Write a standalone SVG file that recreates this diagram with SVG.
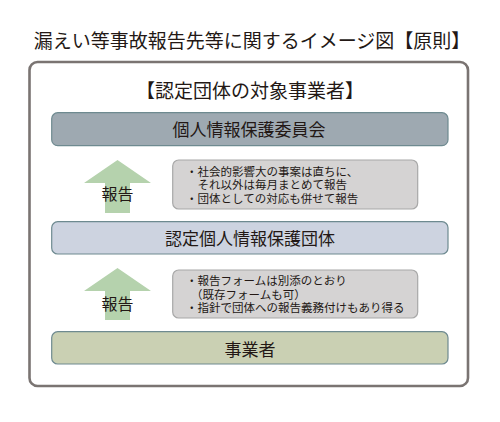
<svg xmlns="http://www.w3.org/2000/svg" width="500" height="422" viewBox="0 0 500 422">
<style>
text{font-family:"Noto Sans CJK JP","Noto Sans",sans-serif;fill:#231815;}
.band{stroke:#6e8a90;stroke-width:1.2;}
.note{fill:#d5d3d3;stroke:#a8a8a8;stroke-width:1.2;}
.arrow{fill:#b5d2ad;}
.bt{font-size:17px;text-anchor:middle;}
.nt{font-size:11.5px;}
.lbl{font-size:16px;text-anchor:middle;}
</style>
<rect width="500" height="422" fill="#ffffff"/>
<text x="252" y="48" style="font-size:19px" text-anchor="middle">漏えい等事故報告先等に関するイメージ図【原則】</text>
<g id="frame">
<rect x="29.5" y="62" width="438.5" height="324" rx="8" fill="#ffffff" stroke="#7a7472" stroke-width="2.6"/>
<text x="250" y="98" style="font-size:19px" text-anchor="middle">【認定団体の対象事業者】</text>
</g>
<g id="ppc">
<rect class="band" x="51.7" y="112.7" width="396.3" height="33" rx="6" fill="#9ea9b1"/>
<text class="bt" x="249" y="135.7">個人情報保護委員会</text>
</g>
<g id="dantai">
<rect class="band" x="51.7" y="221.7" width="396.3" height="32.3" rx="6" fill="#cdd3e0"/>
<text class="bt" x="250" y="244.8">認定個人情報保護団体</text>
</g>
<g id="jigyosha">
<rect class="band" x="51.7" y="331.7" width="396.3" height="32.3" rx="6" fill="#cad0b3"/>
<text class="bt" x="250" y="355.7">事業者</text>
</g>
<g id="connectors">
<g id="arrow1">
<polygon class="arrow" points="117.5,160 151,183 130,183 130,213 105,213 105,183 84,183"/>
<text class="lbl" x="117.5" y="200">報告</text>
</g>
<g id="arrow2">
<polygon class="arrow" points="117.5,268 151,291 130,291 130,320 105,320 105,291 84,291"/>
<text class="lbl" x="117.5" y="310">報告</text>
</g>
</g>
<g id="note1">
<rect class="note" x="172.7" y="160" width="245" height="49" rx="6"/>
<text class="nt" x="186" y="175.9">・社会的影響大の事案は直ちに、</text>
<text class="nt" x="197.5" y="189.2">それ以外は毎月まとめて報告</text>
<text class="nt" x="186" y="203.2">・団体としての対応も併せて報告</text>
</g>
<g id="note2">
<rect class="note" x="172.7" y="270" width="245" height="48" rx="6"/>
<text class="nt" x="186" y="285.2">・報告フォームは別添のとおり</text>
<text class="nt" x="191" y="298.5">（既存フォームも可）</text>
<text class="nt" x="186" y="311.9">・指針で団体への報告義務付けもあり得る</text>
</g>
</svg>
